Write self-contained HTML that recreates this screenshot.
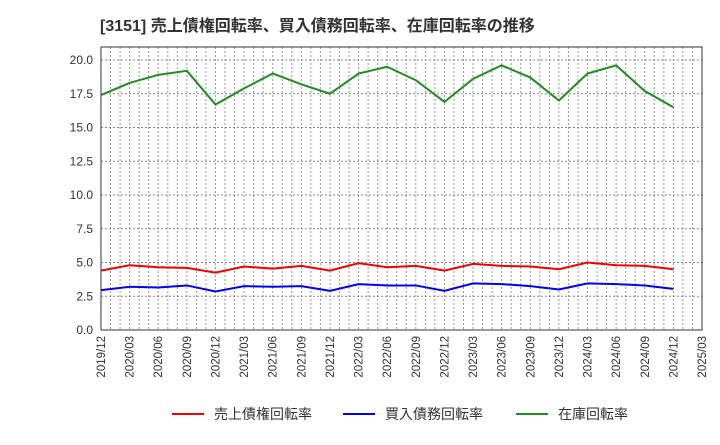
<!DOCTYPE html>
<html><head><meta charset="utf-8"><style>
body{margin:0;background:#fff;font-family:"Liberation Sans","Noto Sans CJK JP",sans-serif;}
</style></head><body>
<svg id="c" width="720" height="440" xmlns="http://www.w3.org/2000/svg">
<text x="100" y="31" font-size="16" font-weight="bold" fill="#333" font-family="Liberation Sans, Noto Sans CJK JP, sans-serif">[3151]  売上債権回転率、買入債務回転率、在庫回転率の推移</text>
<g id="grid"></g><g id="axes"></g><g id="series"></g><g id="legend"></g>
</svg>
<script>
const xLabels=["2019/12","2020/03","2020/06","2020/09","2020/12","2021/03","2021/06","2021/09","2021/12","2022/03","2022/06","2022/09","2022/12","2023/03","2023/06","2023/09","2023/12","2024/03","2024/06","2024/09","2024/12","2025/03"];
const yTicks=[0,2.5,5,7.5,10,12.5,15,17.5,20];
const receivables=[4.4,4.8,4.65,4.6,4.25,4.7,4.55,4.75,4.4,4.95,4.65,4.75,4.4,4.9,4.75,4.7,4.5,5.0,4.8,4.75,4.5];
const payables=[2.95,3.2,3.15,3.3,2.85,3.25,3.2,3.25,2.9,3.4,3.3,3.3,2.9,3.45,3.4,3.25,3.0,3.45,3.4,3.3,3.05];
const inventory=[17.4,18.3,18.9,19.2,16.7,17.9,19.0,18.2,17.5,19.0,19.5,18.5,16.9,18.6,19.6,18.7,17.0,19.0,19.6,17.7,16.5];
const L=101,R=702,T=47,B=330;
const xs=i=>L+i*(R-L)/(xLabels.length-1);
const ys=v=>B-v*(B-60)/20;
const NS="http://www.w3.org/2000/svg";
function mk(tag,attrs,parent){const e=document.createElementNS(NS,tag);for(const k in attrs)e.setAttribute(k,attrs[k]);document.getElementById(parent).appendChild(e);return e;}
for(let m=0;m<=(xLabels.length-1)*3;m++){const x=L+m*(R-L)/((xLabels.length-1)*3);
 const g=mk('line',{x1:x,x2:x,y1:T,y2:B,stroke:'#999','stroke-width':1,'stroke-dasharray':'2,2'},'grid');
 
 }
yTicks.forEach(v=>{const g=mk('line',{x1:L,x2:R,y1:ys(v),y2:ys(v),stroke:'#888','stroke-width':1,'stroke-dasharray':'2,2'},'grid');
 
 
 const t=mk('text',{x:L-8,y:ys(v)+4,'text-anchor':'end','font-size':12,fill:'#333'},'axes');t.textContent=v.toFixed(1);
 
 });
xLabels.forEach((s,i)=>{const x=xs(i);const t=mk('text',{x:x+4,y:B+6,'text-anchor':'end','font-size':11.5,fill:'#333',transform:`rotate(-90 ${x+4} ${B+6})`},'axes');t.textContent=s;
 
 });
const fr=mk('rect',{x:L,y:T,width:R-L,height:B-T,fill:'none',stroke:'#333','stroke-width':1},'axes');


const series=[[receivables,'#ee0000','売上債権回転率','receivables-line'],[payables,'#0000ee','買入債務回転率','payables-line'],[inventory,'#228b22','在庫回転率','inventory-line']];
series.forEach(([d,c,name,id])=>{const p=mk('polyline',{points:d.map((v,i)=>xs(i)+','+ys(v)).join(' '),fill:'none',stroke:c,'stroke-width':2},'series');
 
 });
const lx=[172,343,516];
series.forEach(([d,c,name,id],k)=>{const l=mk('line',{x1:lx[k],x2:lx[k]+32,y1:414,y2:414,stroke:c,'stroke-width':2},'legend');
 
 
 const t=mk('text',{x:lx[k]+42,y:419,'font-size':14,fill:'#333'},'legend');t.textContent=name;
 
 });
</script>
</body></html>
